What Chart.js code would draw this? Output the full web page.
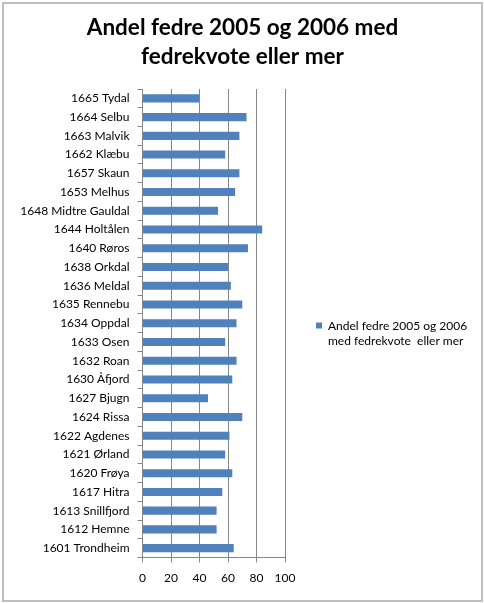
<!DOCTYPE html>
<html>
<head>
<meta charset="utf-8">
<script src="https://cdn.jsdelivr.net/npm/chart.js@4/dist/chart.umd.min.js"></script>
<style>
  html, body { margin: 0; padding: 0; background: #ffffff; }
  #wrap { position: relative; width: 484px; height: 603px; }
</style>
</head>
<body>
<div id="wrap"><canvas id="c" width="484" height="603"></canvas></div>
<script>
const titleLines = ["Andel fedre 2005 og 2006 med", "fedrekvote eller mer"];
const seriesLabel = "Andel fedre 2005 og 2006 med fedrekvote  eller mer";
const legendLines = ["Andel fedre 2005 og 2006", "med fedrekvote  eller mer"];
const municipalities = [
  "1665 Tydal", "1664 Selbu", "1663 Malvik", "1662 Klæbu", "1657 Skaun",
  "1653 Melhus", "1648 Midtre Gauldal", "1644 Holtålen", "1640 Røros",
  "1638 Orkdal", "1636 Meldal", "1635 Rennebu", "1634 Oppdal", "1633 Osen",
  "1632 Roan", "1630 Åfjord", "1627 Bjugn", "1624 Rissa", "1622 Agdenes",
  "1621 Ørland", "1620 Frøya", "1617 Hitra", "1613 Snillfjord",
  "1612 Hemne", "1601 Trondheim"
];
const shareValues = [
  40, 73, 68, 58, 68,
  65, 53, 84, 74,
  60, 62, 70, 66, 58,
  66, 63, 46, 70, 61,
  58, 63, 56, 52,
  52, 64
];
const xTicks = [0, 20, 40, 60, 80, 100];

const FONT = "Lato, 'Open Sans', sans-serif";
const barColor = "#4F81BD";
const gridColor = "#868686";

const frameTitleLegend = {
  id: "frameTitleLegend",
  beforeDraw(chart) {
    const ctx = chart.ctx;
    ctx.save();
    ctx.fillStyle = "#ffffff";
    ctx.fillRect(0, 0, chart.width, chart.height);
    ctx.strokeStyle = "#bfbfbf";
    ctx.lineWidth = 2;
    ctx.strokeRect(3, 3, chart.width - 5, chart.height - 5);
    ctx.restore();
  },
  afterDraw(chart) {
    const ctx = chart.ctx;
    const area = chart.chartArea;
    ctx.save();
    // title
    ctx.fillStyle = "#000000";
    ctx.font = "bold 22.5px " + FONT;
    ctx.textAlign = "center";
    ctx.textBaseline = "alphabetic";
    ctx.fillText(titleLines[0], 242.5, 35);
    ctx.fillText(titleLines[1], 242.5, 64);
    // legend
    const bx = area.right + 31;
    const by = 322.5;
    ctx.fillStyle = barColor;
    ctx.fillRect(bx, by, 6, 6);
    ctx.fillStyle = "#000000";
    ctx.font = "12px " + FONT;
    ctx.textBaseline = "middle";
    ctx.textAlign = "left";
    ctx.fillText(legendLines[0], bx + 12, by + 4);
    ctx.fillText(legendLines[1], bx + 12, by + 19);
    ctx.restore();
  }
};

new Chart(document.getElementById("c"), {
  type: "bar",
  data: {
    labels: municipalities,
    datasets: [{
      label: seriesLabel,
      data: shareValues,
      backgroundColor: barColor,
      borderWidth: 0,
      barPercentage: 0.43,
      categoryPercentage: 1.0
    }]
  },
  options: {
    indexAxis: "y",
    responsive: false,
    animation: false,
    devicePixelRatio: 1,
    layout: { padding: { left: 0, right: 199, top: 89, bottom: 17 } },
    plugins: {
      legend: { display: false },
      tooltip: { enabled: false },
      title: { display: false }
    },
    scales: {
      x: {
        min: 0, max: 100,
        afterBuildTicks(scale) { scale.ticks = xTicks.map(v => ({ value: v })); },
        afterFit(scale) { scale.height = 28.5; },
        grid: { color: gridColor, lineWidth: 1, drawTicks: true, tickLength: 5, tickColor: gridColor },
        border: { display: true, color: gridColor, width: 1 },
        ticks: { color: "#000000", font: { family: FONT, size: 12 }, padding: 8, maxRotation: 0 }
      },
      y: {
        afterFit(scale) { scale.width = 142.5; },
        grid: { offset: true, drawOnChartArea: false, drawTicks: true, tickLength: 5, color: gridColor, tickColor: gridColor },
        border: { display: true, color: gridColor, width: 1 },
        ticks: { color: "#000000", font: { family: FONT, size: 12 }, padding: 8, autoSkip: false }
      }
    }
  },
  plugins: [frameTitleLegend]
});
</script>
</body>
</html>
